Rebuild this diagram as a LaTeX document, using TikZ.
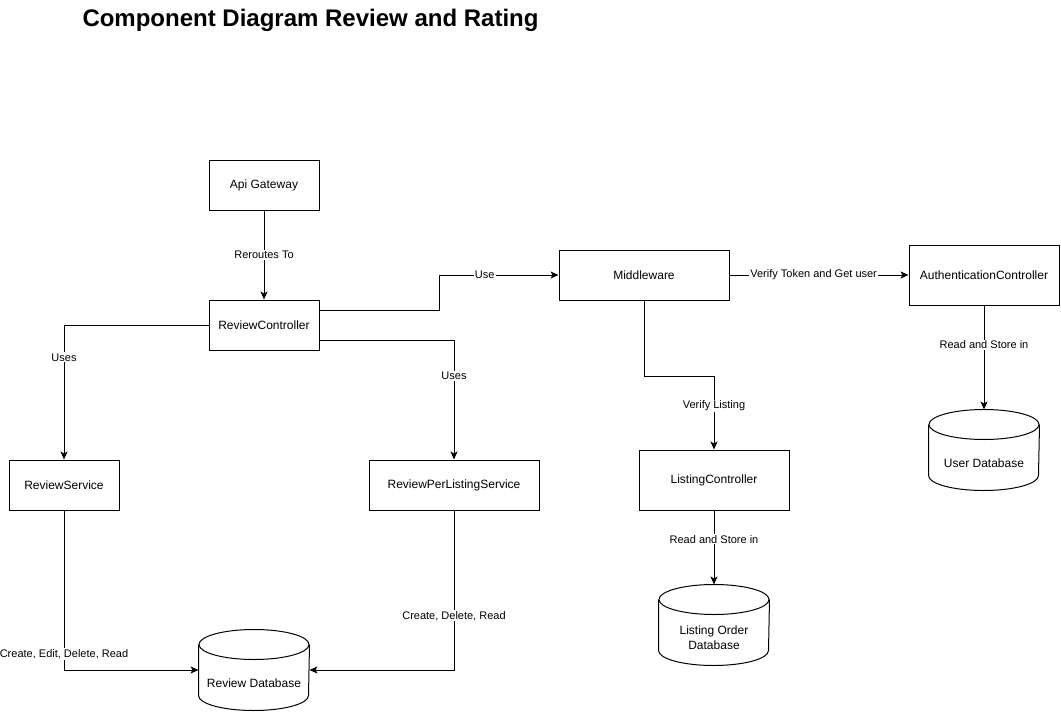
\documentclass[tikz,border=0pt]{standalone}
\usepackage{fontspec}
\setmainfont{Liberation Sans}
\usetikzlibrary{arrows.meta,calc}

\tikzset{every picture/.style={line width=0.75pt}}
\tikzset{
  box/.style={draw, inner sep=1pt, font=\fontsize{9}{10.8}\selectfont},
  db/.style={inner sep=0pt, minimum width=82.5pt, minimum height=60pt},
  dbtext/.style={font=\fontsize{9}{11}\selectfont, align=center, yshift=-9.75pt},
  lbl/.style={fill=white, inner sep=0.75pt, font=\fontsize{8.25}{10}\selectfont},
  arr/.style={-{Stealth[length=6pt,width=5.25pt,inset=1.5pt]}},
  title/.style={font=\fontsize{18}{22}\selectfont\bfseries, inner sep=0pt}
}
% cylinder round a db node
\newcommand{\dbshape}[1]{%
  \draw ($(#1.north west)+(0,15)$) -- ($(#1.south west)+(0,-15)$)
    arc[start angle=180, end angle=0, x radius=55, y radius=15]
    -- ($(#1.north east)+(0,15)$);
  \draw ($(#1.north)+(0,15)$) ellipse [x radius=55, y radius=15];
}

\begin{document}
\begin{tikzpicture}[x=0.75pt,y=0.75pt,yscale=-1,xscale=1]
        \useasboundingbox (0,0) rectangle (1061,711);

        % Title
        \node [title, anchor=west] (ttl) at (82,20) {Component Diagram Review and Rating};

        % Components
        \node [box, minimum width=82.5pt, minimum height=37.5pt] (api) at (264,185) {Api Gateway};
        \node [box, minimum width=82.5pt, minimum height=37.5pt] (rc) at (264,325) {ReviewController};
        \node [box, minimum width=127.5pt, minimum height=37.5pt] (mw) at (644,275) {Middleware};
        \node [box, minimum width=112.5pt, minimum height=45pt] (auth) at (984,275) {AuthenticationController};
        \node [box, minimum width=82.5pt, minimum height=37.5pt] (rs) at (64,485) {ReviewService};
        \node [box, minimum width=127.5pt, minimum height=37.5pt] (rpls) at (454,485) {ReviewPerListingService};
        \node [box, minimum width=112.5pt, minimum height=45pt] (lc) at (714,480) {ListingController};

        % Databases
        \node [db, label={[dbtext]center:User Database}] (udb) at (984,450) {};
        \node [db, label={[dbtext]center:Listing Order\\Database}] (lodb) at (714,625) {};
        \node [db, label={[dbtext]center:Review Database}] (rdb) at (254,670) {};
        \dbshape{udb}
        \dbshape{lodb}
        \dbshape{rdb}

        % Connectors
        \draw [arr] (api) -- node [lbl] {Reroutes To} (rc);
        \draw [arr] ($(rc.east)+(0,-15)$) -- ++(120,0) |- node [lbl, pos=0.69] {Use} (mw.west);
        \draw [arr] (rc.west) -| node [lbl, pos=0.62] {Uses} (rs.north);
        \draw [arr] ($(rc.east)+(0,15)$) -| node [lbl, pos=0.65] {Uses} (rpls.north);
        \draw [arr] (mw) -- node [lbl, pos=0.47] {Verify Token and Get user} (auth);
        \draw [arr] (mw.south) -- ++(0,76) -| node [lbl, pos=0.7] {Verify Listing} (lc.north);
        \draw [arr] (auth) -- node [lbl, pos=0.38] {Read and Store in} (udb);
        \draw [arr] (lc) -- node [lbl, pos=0.39] {Read and Store in} (lodb);
        \draw [arr] (rs.south) |- node [lbl, pos=0.45] {Create, Edit, Delete, Read} (rdb.west);
        \draw [arr] (rpls.south) |- node [lbl, pos=0.33] {Create, Delete, Read} (rdb.east);

\end{tikzpicture}
\end{document}
